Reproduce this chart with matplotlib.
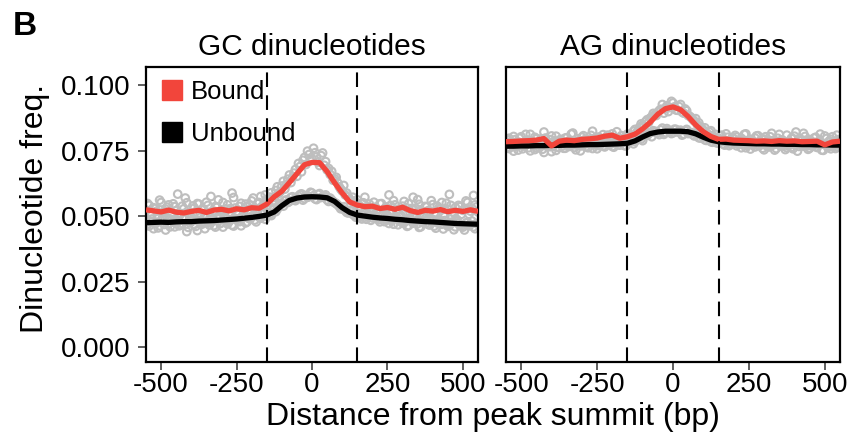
import numpy as np
import matplotlib
matplotlib.use("Agg")
import matplotlib.pyplot as plt
from matplotlib.lines import Line2D

plt.rcParams['font.family'] = ['Liberation Sans', 'DejaVu Sans']

# smoothed profiles, every 25 bp from -550 to 550 (units of 1e-3)
x_line = np.arange(-550, 551, 25)

gc_bound = [52.4, 52.0, 51.6, 52.3, 51.5, 51.2, 51.8, 52.2, 51.4, 52.3, 52.6, 52.0, 52.8, 52.4, 53.2, 53.0, 54.6,
            57.4, 59.5, 62.8, 66.2, 69.6, 70.5, 70.4, 67.0, 62.7, 58.8, 55.4, 54.2,
            53.6, 53.8, 52.9, 53.3, 52.6, 53.4, 52.1, 51.4, 52.2, 51.9, 52.5, 51.7, 52.2, 51.8, 52.4, 51.8]
gc_unbound = [47.5, 47.6, 47.7, 47.6, 47.8, 47.9, 47.9, 48.1, 48.2, 48.3, 48.5, 48.7, 48.9, 49.2, 49.5, 49.9, 50.4,
              51.6, 54.0, 56.0, 56.9, 57.3, 57.4, 57.3, 57.0, 55.6, 53.2, 51.4, 50.4,
              50.0, 49.6, 49.3, 49.1, 48.8, 48.6, 48.3, 48.1, 47.9, 47.8, 47.6, 47.4, 47.2, 47.1, 47.0, 46.9]
ag_bound = [78.4, 78.5, 78.7, 78.8, 79.0, 79.6, 76.8, 78.6, 79.0, 78.8, 79.3, 79.5, 79.8, 80.5, 80.9, 79.7, 80.3,
            81.3, 83.3, 85.8, 88.9, 91.0, 91.7, 90.6, 88.0, 84.8, 82.2, 80.4, 79.3,
            79.4, 79.0, 78.9, 78.8, 78.6, 78.7, 78.5, 78.8, 78.6, 78.7, 78.4, 78.5, 78.6, 77.2, 78.3, 78.6]
ag_unbound = [76.7, 76.7, 76.8, 76.8, 76.9, 76.9, 77.0, 77.0, 77.1, 77.1, 77.2, 77.3, 77.3, 77.4, 77.5, 77.6, 77.8,
              78.7, 80.2, 81.5, 82.1, 82.4, 82.4, 82.4, 82.2, 81.4, 80.1, 79.0, 78.4,
              78.1, 77.9, 77.8, 77.7, 77.6, 77.6, 77.5, 77.5, 77.4, 77.4, 77.3, 77.3, 77.2, 77.2, 77.1, 77.1]

# raw per-position values (units of 1e-4)
# set a: every 10 bp from -550 to 550
x_raw_a = np.arange(-550, 551, 10)
# set b: every 10 bp from -545 to 545
x_raw_b = np.arange(-545, 546, 10)

gc_bound_a = [523, 541, 507, 529, 498, 552, 516, 534, 489, 547, 521, 503, 538, 569, 512, 495, 531, 548, 507, 526,
              553, 514, 489, 537, 562, 518, 505, 543, 529, 571, 511, 537, 498, 546, 524,
              558, 532, 547, 575, 541, 563,
              572, 556, 598, 587, 615, 603, 641, 628, 664,
              652, 689, 713, 697, 735, 718, 742, 706, 731, 694, 676,
              659, 637, 648, 612, 596, 581, 573, 559, 548,
              562, 537, 551, 528, 546, 519,
              534, 512, 548, 527, 503, 541, 559, 522, 496, 538, 515, 547, 529, 508, 563, 524, 497, 535, 518, 544,
              509, 531, 552, 498, 526, 541, 513, 487, 536, 522, 558, 507, 529, 543, 516]
gc_bound_b = [548, 506, 532, 519, 561, 495, 527, 543, 512, 536, 584, 509, 528, 551, 493, 539, 517, 546, 524, 502,
              541, 575, 519, 533, 498, 552, 527, 514, 588, 531, 506, 549, 522, 538,
              541, 569, 526, 552, 538, 581,
              553, 589, 571, 612, 594, 633, 621, 657, 646,
              678, 701, 669, 724, 748, 712, 759, 726, 693, 741, 708, 682,
              671, 642, 627, 603, 617, 588, 564, 572, 553,
              529, 548, 572, 536, 524, 553,
              521, 547, 509, 535, 581, 518, 543, 526, 502, 556, 531, 514, 572, 529, 545, 498, 537, 521, 559, 512,
              538, 527, 504, 549, 583, 516, 533, 541, 507, 528, 552, 519, 579, 535]
gc_unbound_a = [476, 462, 489, 471, 455, 483, 468, 494, 459, 477, 486, 463, 472, 491, 457, 479, 468, 445, 484, 473,
                497, 466, 481, 458, 489, 475, 493, 470, 486, 462, 488, 479, 501, 474, 492,
                497, 485, 508, 492, 511, 499,
                506, 523, 517, 538, 546, 559, 552, 571, 563,
                568, 582, 561, 579, 574, 588, 566, 583, 571, 577, 562,
                569, 556, 548, 537, 529, 521, 512, 518, 503,
                509, 496, 504, 488, 501, 493,
                497, 486, 502, 479, 491, 484, 469, 495, 481, 473, 488, 464, 479, 492, 471, 459, 482, 475, 466, 487,
                454, 476, 469, 483, 461, 472, 448, 479, 466, 458, 474, 463, 481, 452, 469]
gc_unbound_b = [469, 481, 452, 475, 463, 488, 447, 472, 484, 459, 478, 466, 493, 441, 474, 486, 461, 479, 469, 452,
                483, 476, 464, 495, 471, 458, 487, 479, 466, 492, 481, 463, 496, 478,
                489, 503, 478, 496, 507, 488,
                514, 502, 531, 527, 549, 538, 562, 556, 574,
                559, 576, 585, 567, 572, 591, 578, 563, 586, 574, 581, 556,
                562, 551, 543, 528, 536, 514, 522, 507, 496,
                502, 489, 511, 497, 484, 506,
                491, 478, 503, 486, 472, 489, 496, 467, 484, 475, 461, 488, 473, 482, 457, 476, 491, 468, 479, 462,
                474, 483, 451, 471, 465, 478, 459, 473, 462, 447, 476, 468, 459, 472]
ag_bound_a = [784, 797, 771, 792, 779, 803, 768, 789, 812, 776, 795, 761, 783, 798, 772, 806, 787, 764, 793, 781,
              799, 775, 817, 786, 769, 801, 792, 778, 808, 783, 796, 771, 811, 789, 802,
              814, 796, 782, 807, 791, 813,
              806, 824, 818, 839, 847, 861, 858, 879, 887,
              896, 908, 893, 921, 914, 932, 905, 918, 897, 909, 884,
              876, 863, 849, 842, 828, 817, 821, 806, 812,
              797, 809, 788, 801, 783, 796,
              802, 779, 791, 814, 786, 773, 798, 807, 781, 794, 769, 803, 788, 776, 812, 791, 783, 768, 797, 805,
              778, 789, 816, 774, 792, 767, 801, 785, 779, 806, 762, 793, 784, 809, 788]
ag_bound_b = [791, 776, 804, 783, 797, 769, 812, 788, 779, 801, 774, 795, 821, 783, 792, 767, 805, 789, 778, 798,
              786, 813, 772, 795, 784, 807, 779, 793, 824, 786, 802, 777, 798, 809,
              801, 789, 822, 797, 786, 805,
              812, 803, 831, 826, 852, 843, 868, 874, 892,
              884, 903, 926, 911, 899, 938, 917, 904, 926, 893, 902, 881,
              869, 872, 856, 835, 837, 812, 826, 803, 798,
              806, 792, 814, 787, 799, 808,
              785, 797, 812, 774, 793, 781, 806, 769, 791, 803, 784, 816, 778, 797, 788, 772, 809, 783, 795, 821,
              776, 791, 804, 769, 787, 798, 782, 813, 775, 796, 787, 803, 771, 792]
ag_unbound_a = [771, 758, 779, 764, 752, 776, 768, 783, 749, 773, 761, 778, 755, 769, 782, 746, 774, 763, 788, 759,
                771, 766, 779, 753, 784, 768, 775, 761, 781, 772, 757, 779, 768, 785, 773,
                766, 781, 772, 787, 769, 778,
                789, 776, 793, 801, 788, 809, 815, 803, 821,
                817, 829, 812, 834, 822, 818, 831, 824, 809, 826, 815,
                819, 806, 811, 798, 803, 789, 794, 782, 788,
                779, 786, 771, 783, 774, 781,
                768, 782, 775, 761, 779, 786, 764, 771, 777, 753, 783, 766, 772, 758, 778, 769, 754, 781, 763, 774,
                748, 776, 767, 782, 759, 771, 765, 779, 752, 773, 768, 757, 775, 763, 779]
ag_unbound_b = [763, 777, 748, 769, 781, 757, 772, 761, 786, 754, 776, 768, 743, 779, 765, 773, 751, 782, 767, 759,
                775, 786, 762, 771, 749, 778, 766, 783, 758, 774, 769, 781, 764, 787,
                775, 763, 784, 771, 789, 768,
                782, 797, 785, 806, 794, 812, 808, 819, 826,
                823, 811, 836, 819, 827, 815, 832, 821, 828, 813, 831, 818,
                811, 817, 799, 806, 791, 797, 784, 791, 779,
                788, 776, 782, 769, 785, 778,
                774, 761, 783, 769, 756, 778, 772, 785, 759, 771, 764, 779, 752, 775, 768, 783, 761, 773, 757, 779,
                766, 771, 784, 755, 769, 776, 762, 779, 751, 773, 767, 781, 758, 772]

panels = [("GC dinucleotides", gc_bound, gc_unbound, [gc_unbound_a, gc_unbound_b, gc_bound_a, gc_bound_b]),
          ("AG dinucleotides", ag_bound, ag_unbound, [ag_unbound_a, ag_unbound_b, ag_bound_a, ag_bound_b])]

red = '#F2453B'
gray = '#BEBEBE'

fig = plt.figure(figsize=(8.5, 4.41), dpi=100)
ax1 = fig.add_axes([0.1718, 0.179, 0.3906, 0.669])
ax2 = fig.add_axes([0.5953, 0.179, 0.3929, 0.669])

for ax, (title, b, u, raws) in zip([ax1, ax2], panels):
    for raw, xr in zip(raws, [x_raw_a, x_raw_b, x_raw_a, x_raw_b]):
        ax.scatter(xr, np.array(raw) / 10000, s=30, facecolors='none', edgecolors=gray,
                   linewidths=1.5, zorder=1)
    ax.plot(x_line, np.array(u) / 1000, color='black', lw=3.8, zorder=3, solid_capstyle='butt')
    ax.plot(x_line, np.array(b) / 1000, color=red, lw=3.8, zorder=4, solid_capstyle='butt')
    for xv in (-150, 150):
        ax.axvline(xv, color='black', lw=1.5, dashes=(7, 4), zorder=5)
    ax.set_xlim(-550, 550)
    ax.set_ylim(-0.0057, 0.1069)
    ax.set_xticks([-500, -250, 0, 250, 500])
    ax.set_xticklabels(['-500', '-250', '0', '250', '500'])
    ax.set_title(title, fontsize=21.5, pad=9)
    for sp in ax.spines.values():
        sp.set_linewidth(1.6)
    ax.tick_params(labelsize=20, length=5.5, width=1.1, color='#333333', pad=2)

ax1.set_yticks([0, 0.025, 0.05, 0.075, 0.1])
ax1.set_yticklabels(['0.000', '0.025', '0.050', '0.075', '0.100'])
ax1.tick_params(axis='y', pad=6)
ax2.set_yticks([])

handles = [Line2D([], [], marker='s', ls='', color=red, markersize=14.5),
           Line2D([], [], marker='s', ls='', color='black', markersize=14.5)]
ax1.legend(handles, ['Bound', 'Unbound'], loc='upper left', frameon=False, fontsize=18.5,
           handletextpad=0.25, labelspacing=0.7, borderaxespad=0.3, borderpad=0.2, handlelength=1.0)

fig.text(0.041, 0.528, 'Dinucleotide freq.', rotation=90, ha='center', va='center', fontsize=23)
fig.text(0.58, 0.055, 'Distance from peak summit (bp)', ha='center', va='center', fontsize=23)
fig.text(0.015, 0.94, 'B', fontsize=24, fontweight='bold', ha='left', va='center')

fig.savefig('out.png', dpi=100)
